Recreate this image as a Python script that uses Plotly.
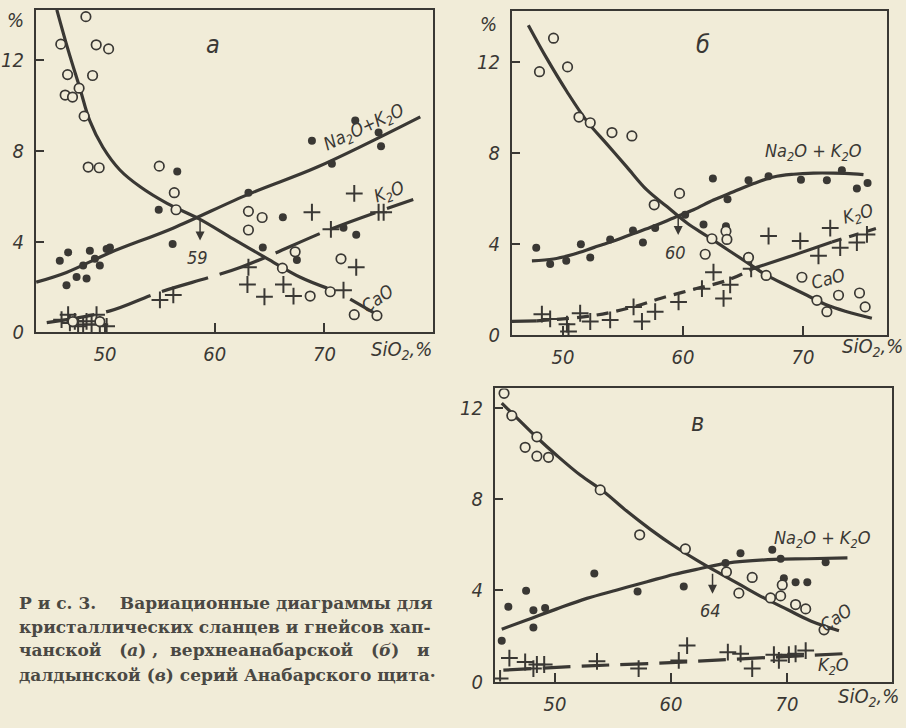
import plotly.graph_objects as go

BG = "#f1ecd8"
INK = "#3a3834"
NUM_FONT = "DejaVu Sans Condensed, Liberation Sans Narrow, DejaVu Sans"
CAP_FONT = "DejaVu Serif, Liberation Serif, serif"

# ---------------- panel а ----------------
a_cao_curve_x = [45.6, 46.6, 47.7, 48.6, 49.8, 51.35, 53.2, 55.65, 58.66, 61.67, 64.78, 67.8, 70.25, None, 72.35, 74.8]
a_cao_curve_y = [14.2, 12.48, 10.75, 9.32, 8.15, 7.15, 6.41, 5.68, 4.98, 4.12, 3.25, 2.43, 1.95, None, 1.47, 0.78]
a_alk_curve_x = [43.72, 46.48, 50.44, 56.19, 63.2, 69.35, 78.74]
a_alk_curve_y = [2.21, 2.64, 3.51, 4.59, 6.11, 7.28, 9.49]
a_k2o_curve_x = [44.68, 50.45, 54.73, 62.31, 70.8, 78.1]
a_k2o_curve_y = [0.43, 0.95, 1.73, 2.86, 4.59, 5.85]

a_cao_x = [48.25, 45.96, 49.19, 50.32, 46.58, 48.86, 46.36, 47.03, 47.63, 48.09, 48.46, 49.46, 54.94, 56.31,
           56.47, 63.07, 64.32, 63.07, 67.33, 66.17, 71.51, 68.70, 70.53, 72.72, 74.79, 47.06, 49.52]
a_cao_y = [13.9, 12.69, 12.66, 12.48, 11.35, 11.31, 10.45, 10.36, 10.75, 9.52, 7.28, 7.25, 7.32, 6.15,
           5.40, 5.33, 5.06, 4.51, 3.55, 2.83, 3.24, 1.60, 1.79, 0.78, 0.74, 0.48, 0.48]
a_alk_x = [45.87, 46.63, 46.48, 47.40, 48.0, 48.31, 48.61, 49.07, 49.52, 50.14, 50.44, 56.16, 54.89, 56.58,
           63.07, 66.21, 68.86, 70.68, 72.81, 74.94, 75.16, 71.74, 72.90, 64.38, 67.49]
a_alk_y = [3.16, 3.52, 2.08, 2.44, 2.95, 2.37, 3.60, 3.24, 2.95, 3.67, 3.74, 3.89, 5.40, 7.08,
           6.15, 5.07, 8.44, 7.42, 9.33, 8.80, 8.19, 4.61, 4.30, 3.74, 3.19]
a_k2o_x = [63.07, 62.98, 64.53, 66.26, 67.18, 68.86, 72.72, 70.59, 72.90, 71.74, 74.94, 75.40, 55.0, 56.22,
           46.63, 46.79, 47.24, 47.54, 48.0, 48.31, 48.77, 49.22, 49.52, 50.14, 46.03]
a_k2o_y = [2.87, 2.11, 1.57, 2.11, 1.60, 5.29, 6.12, 4.54, 2.87, 1.86, 5.29, 5.29, 1.43, 1.65,
           0.78, 0.42, 0.49, 0.27, 0.35, 0.49, 0.35, 0.78, 0.35, 0.27, 0.56]

# ---------------- panel б ----------------
b_cao_curve_x = [47.11, 48.66, 50.32, 51.99, 53.66, 55.33, 56.99, 58.66, 60.33, 61.99, 63.66, 65.33, 66.99,
                 68.66, 70.33, 71.99, 73.66, 75.74]
b_cao_curve_y = [13.61, 12.14, 10.70, 9.40, 8.39, 7.38, 6.38, 5.65, 4.93, 4.36, 3.78, 3.20, 2.63,
                 2.19, 1.76, 1.33, 1.04, 0.75]
b_alk_curve_x = [47.41, 49.21, 50.88, 52.54, 54.21, 55.88, 57.54, 59.21, 60.88, 62.54, 64.21, 65.88, 67.54,
                 69.21, 70.88, 72.54, 74.21, 75.04]
b_alk_curve_y = [3.27, 3.35, 3.56, 3.85, 4.14, 4.47, 4.79, 5.15, 5.51, 5.94, 6.30, 6.66, 6.95,
                 7.07, 7.12, 7.12, 7.09, 7.05]
b_k2o_curve_x = [45.73, 47.82, 52.54, 55.88, 58.10, 60.88, 63.66, 65.88, 69.21, 72.41, 76.71]
b_k2o_curve_y = [0.61, 0.64, 0.87, 1.25, 1.62, 2.02, 2.41, 2.94, 3.52, 4.10, 4.79]

b_cao_x = [48.04, 49.21, 50.38, 51.33, 52.27, 54.08, 55.74, 57.60, 59.71, 61.85, 62.41, 63.58, 63.66, 65.46,
           66.93, 69.91, 71.16, 71.99, 72.96, 74.71, 75.18]
b_cao_y = [11.57, 13.04, 11.78, 9.58, 9.33, 8.90, 8.75, 5.73, 6.23, 3.56, 4.24, 4.57, 4.21, 3.42,
           2.63, 2.55, 1.54, 1.04, 1.76, 1.86, 1.25]
b_alk_x = [47.77, 48.93, 50.27, 51.49, 52.27, 53.93, 55.83, 56.66, 57.68, 60.18, 61.71, 62.49, 63.58, 63.71,
           65.46, 67.13, 69.83, 71.99, 73.24, 74.49, 75.38]
b_alk_y = [3.85, 3.13, 3.27, 4.00, 3.42, 4.21, 4.60, 4.07, 4.71, 5.29, 4.86, 6.88, 4.79, 5.97,
           6.81, 6.98, 6.83, 6.81, 7.24, 6.44, 6.69]
b_k2o_x = [48.24, 48.93, 50.33, 50.46, 51.43, 52.27, 53.93, 55.88, 56.58, 57.68, 59.63, 61.58, 62.54, 63.38,
           63.93, 65.68, 67.13, 69.77, 71.29, 72.27, 73.10, 74.49, 75.33]
b_k2o_y = [0.93, 0.72, 0.49, 0.17, 0.97, 0.61, 0.68, 1.25, 0.61, 1.04, 1.47, 2.05, 2.77, 1.62,
           2.22, 2.92, 4.36, 4.14, 3.49, 4.71, 3.85, 4.07, 4.43]

# ---------------- panel в ----------------
c_cao_curve_x = [45.41, 46.71, 48.44, 50.16, 52.18, 54.19, 56.21, 58.22, 60.23, 62.25, 63.98, 65.99, 68.01,
                 70.03, 72.04, 74.48]
c_cao_curve_y = [12.22, 11.57, 10.71, 9.92, 9.06, 8.34, 7.47, 6.68, 5.96, 5.32, 4.81, 4.24, 3.67,
                 3.16, 2.66, 2.23]
c_alk_curve_x = [45.41, 47.57, 50.16, 52.75, 55.35, 57.94, 60.23, 62.54, 64.84, 68.87, 71.75, 75.21]
c_alk_curve_y = [2.30, 2.70, 3.19, 3.65, 4.02, 4.38, 4.70, 4.96, 5.20, 5.36, 5.39, 5.43]
c_k2o_curve_x = [45.55, 52.89, 59.95, 65.41, 74.78]
c_k2o_curve_y = [0.50, 0.69, 0.83, 0.98, 1.22]

c_cao_x = [45.61, 46.28, 47.43, 48.44, 48.44, 49.44, 53.90, 57.30, 61.24, 64.78, 65.85, 67.00, 68.58, 69.45,
           69.59, 70.74, 71.61, 73.19]
c_cao_y = [12.65, 11.67, 10.28, 10.74, 9.89, 9.84, 8.41, 6.44, 5.82, 4.81, 3.88, 4.57, 3.67, 3.76,
           4.24, 3.38, 3.19, 2.27]
c_alk_x = [45.41, 45.98, 47.51, 48.14, 48.14, 49.15, 53.39, 57.12, 61.10, 64.70, 65.99, 68.73, 69.45, 69.73,
           70.74, 71.75, 73.33]
c_alk_y = [1.79, 3.28, 3.99, 3.13, 2.37, 3.23, 4.74, 3.95, 4.17, 5.20, 5.63, 5.78, 5.39, 4.53,
           4.36, 4.36, 5.24]
c_k2o_x = [45.27, 46.07, 47.43, 48.14, 48.44, 49.07, 53.62, 57.21, 60.67, 61.39, 64.90, 66.0, 67.0, 68.87,
           69.30, 70.16, 70.74, 71.61]
c_k2o_y = [0.14, 1.03, 0.86, 0.57, 0.75, 0.75, 0.89, 0.57, 0.93, 1.58, 1.29, 1.22, 0.57, 1.18,
           0.93, 1.18, 1.22, 1.36]

# intersection points marked with an arrow and the SiO2 value
cross_x = [58.66, 59.6, 63.58]
cross_y = [5.0, 5.35, 4.8]
cross_lbl = ["59", "60", "64"]

x_ticks = [50, 60, 70]
y_ticks = [0, 4, 8, 12]

caption_lines = [
    "Р\u00a0и\u00a0с.\u00a03.\u00a0\u00a0\u00a0\u00a0Вариационные диаграммы для",
    "кристаллических сланцев и гнейсов хап-",
    "чанской\u00a0\u00a0\u00a0(<i>а</i>)\u00a0,\u00a0\u00a0верхнеанабарской\u00a0\u00a0\u00a0(<i>б</i>)\u00a0\u00a0\u00a0и",
    "далдынской (<i>в</i>) серий Анабарского щита·",
]

fig = go.Figure()


def curve(x, y, xa, ya, dash="solid", width=3.2):
    fig.add_trace(go.Scatter(x=x, y=y, xaxis=xa, yaxis=ya, mode="lines",
                             line=dict(color=INK, width=width, dash=dash, shape="spline", smoothing=1.0),
                             connectgaps=False, hoverinfo="skip", showlegend=False))


def points(x, y, xa, ya, kind):
    if kind == "open":
        marker = dict(symbol="circle", size=9.5, color=BG, line=dict(color=INK, width=1.7))
    elif kind == "filled":
        marker = dict(symbol="circle", size=8, color=INK, line=dict(color=INK, width=0))
    else:
        marker = dict(symbol="cross-thin", size=12, color=INK, line=dict(color=INK, width=2))
    fig.add_trace(go.Scatter(x=x, y=y, xaxis=xa, yaxis=ya, mode="markers", marker=marker,
                             hoverinfo="skip", showlegend=False))


# panel а
curve(a_cao_curve_x, a_cao_curve_y, "x", "y")
curve(a_alk_curve_x, a_alk_curve_y, "x", "y")
curve(a_k2o_curve_x, a_k2o_curve_y, "x", "y", dash="48px,12px")
points(a_k2o_x, a_k2o_y, "x", "y", "cross")
points(a_alk_x, a_alk_y, "x", "y", "filled")
points(a_cao_x, a_cao_y, "x", "y", "open")

# panel б
curve(b_cao_curve_x, b_cao_curve_y, "x2", "y2")
curve(b_alk_curve_x, b_alk_curve_y, "x2", "y2")
curve(b_k2o_curve_x[0:2], b_k2o_curve_y[0:2], "x2", "y2")
curve(b_k2o_curve_x[1:8], b_k2o_curve_y[1:8], "x2", "y2", dash="12px,8px")
curve(b_k2o_curve_x[7:10], b_k2o_curve_y[7:10], "x2", "y2")
curve(b_k2o_curve_x[9:11], b_k2o_curve_y[9:11], "x2", "y2", dash="10px,8px")
points(b_k2o_x, b_k2o_y, "x2", "y2", "cross")
points(b_alk_x, b_alk_y, "x2", "y2", "filled")
points(b_cao_x, b_cao_y, "x2", "y2", "open")

# panel в
curve(c_cao_curve_x, c_cao_curve_y, "x3", "y3")
curve(c_alk_curve_x, c_alk_curve_y, "x3", "y3")
curve(c_k2o_curve_x, c_k2o_curve_y, "x3", "y3", dash="28px,11px")
points(c_k2o_x, c_k2o_y, "x3", "y3", "cross")
points(c_alk_x, c_alk_y, "x3", "y3", "filled")
points(c_cao_x, c_cao_y, "x3", "y3", "open")

W, H = 906, 728


def px(v):
    return v / W


def py(v):
    return 1 - v / H


tickfont = dict(family=NUM_FONT, size=20, color=INK, style="italic")


def xaxis(dom, rng, anchor):
    return dict(domain=dom, range=rng, anchor=anchor, showline=True, mirror=True, linecolor=INK,
                linewidth=2, ticks="inside", ticklen=9, tickwidth=2, tickcolor=INK, showgrid=False,
                zeroline=False, tickvals=x_ticks, tickfont=tickfont, ticklabelstandoff=3)


def yaxis(dom, rng, anchor):
    return dict(domain=dom, range=rng, anchor=anchor, showline=True, mirror=True, linecolor=INK,
                linewidth=2, ticks="inside", ticklen=8, tickwidth=2, tickcolor=INK, showgrid=False,
                zeroline=False, tickvals=y_ticks, tickfont=tickfont, ticklabelstandoff=6)


ann = []


def note(text, x, y, xr, yr, angle=0, size=17, xanchor="center"):
    ann.append(dict(text=text, x=x, y=y, xref=xr, yref=yr, showarrow=False, textangle=angle,
                    xanchor=xanchor, yanchor="middle",
                    font=dict(family=NUM_FONT, size=size, color=INK, style="italic")))


# curve names
note("Na<sub>2</sub>O+K<sub>2</sub>O", px(364), py(130), "paper", "paper", angle=-25, size=18)
note("K<sub>2</sub>O", px(389), py(196), "paper", "paper", angle=-20, size=18)
note("CaO", px(377), py(303), "paper", "paper", angle=-35, size=18)
note("Na<sub>2</sub>O + K<sub>2</sub>O", px(813), py(155), "paper", "paper", size=18)
note("K<sub>2</sub>O", px(858), py(219), "paper", "paper", angle=-15, size=18)
note("CaO", px(828), py(283), "paper", "paper", angle=-15, size=18)
note("Na<sub>2</sub>O + K<sub>2</sub>O", px(822), py(548), "paper", "paper", size=18)
note("CaO", px(836), py(628), "paper", "paper", angle=-35, size=18)
note("K<sub>2</sub>O", px(833), py(677), "paper", "paper", size=18)

# panel letters
note("а", px(213), py(45), "paper", "paper", size=25)
note("б", px(703), py(45), "paper", "paper", size=25)
note("в", px(697), py(430), "paper", "paper", size=25)

# percent signs and axis titles
note("%", px(15), py(20), "paper", "paper", size=20)
note("%", px(488), py(24), "paper", "paper", size=20)
note("SiO<sub>2</sub>,%", px(434), py(356), "paper", "paper", size=20, xanchor="right")
note("SiO<sub>2</sub>,%", px(905), py(353), "paper", "paper", size=20, xanchor="right")
note("SiO<sub>2</sub>,%", px(901), py(709), "paper", "paper", size=20, xanchor="right")

# intersection arrows and values
axes = [("x", "y"), ("x2", "y2"), ("x3", "y3")]
for (xr, yr), cx, cy, lab in zip(axes, cross_x, cross_y, cross_lbl):
    ann.append(dict(x=cx, y=cy - 0.95, ax=cx, ay=cy, xref=xr, yref=yr, axref=xr, ayref=yr,
                    text="", showarrow=True, arrowhead=2, arrowsize=1.2, arrowwidth=1.5, arrowcolor=INK,
                    font=dict(size=12)))
    ann.append(dict(x=cx - 0.2, y=cy - 1.7, xref=xr, yref=yr, text=lab, showarrow=False,
                    font=dict(family=NUM_FONT, size=18, color=INK, style="italic")))

# caption
cap_y = [613, 637, 661, 686]
for line, yy in zip(caption_lines, cap_y):
    ann.append(dict(text=line, x=px(17), y=py(yy), xref="paper", yref="paper", xanchor="left",
                    yanchor="middle", showarrow=False,
                    font=dict(family=CAP_FONT, size=17, color="#4a4843", weight="bold")))

fig.update_layout(
    width=W, height=H, margin=dict(l=0, r=0, t=0, b=0),
    paper_bgcolor=BG, plot_bgcolor=BG, showlegend=False,
    xaxis=xaxis([px(36), px(433)], [43.7, 79.9], "y"),
    yaxis=yaxis([py(338), py(10)], [0, 14.2], "x"),
    xaxis2=xaxis([px(512), px(887)], [45.75, 77.0], "y2"),
    yaxis2=yaxis([py(341), py(11)], [0, 14.24], "x2"),
    xaxis3=xaxis([px(495), px(892)], [44.83, 79.05], "y3"),
    yaxis3=yaxis([py(693), py(395)], [0, 12.86], "x3"),
    annotations=ann,
)

fig.write_html("out.html")
